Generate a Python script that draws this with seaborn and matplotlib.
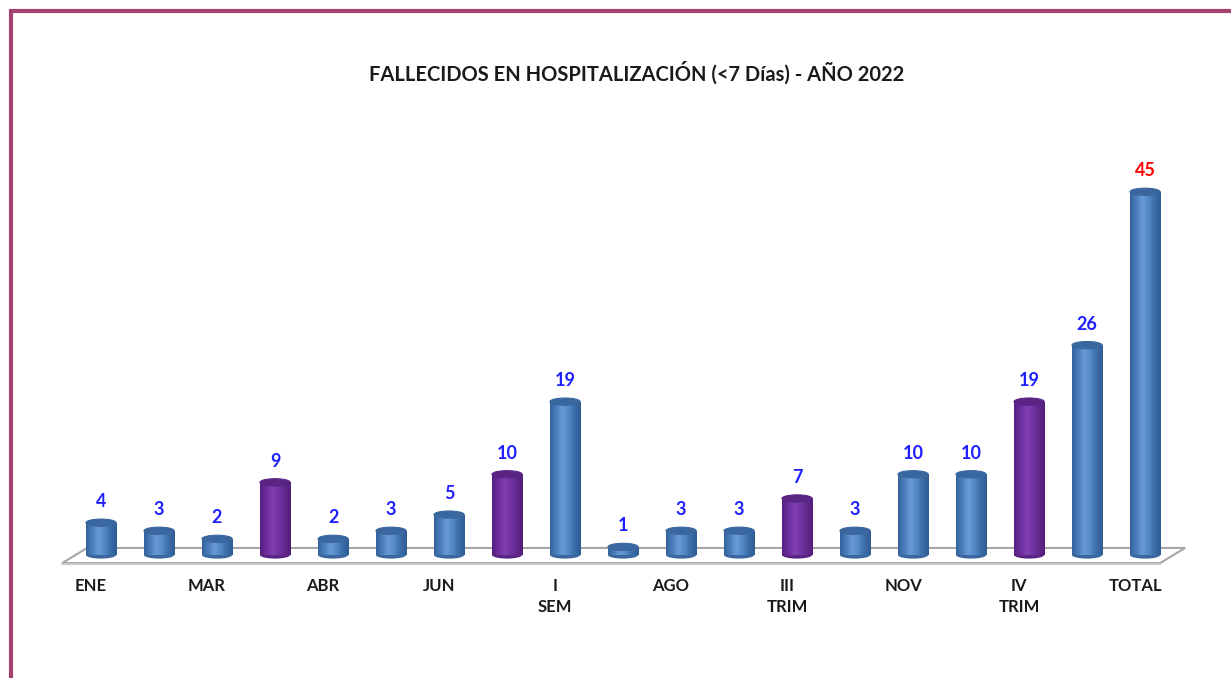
import numpy as np
import pandas as pd
import seaborn as sns
import matplotlib.pyplot as plt
import matplotlib.transforms as mtransforms
from matplotlib.patches import Ellipse, Polygon, Rectangle
from matplotlib.colors import LinearSegmentedColormap

# datos
categorias = ['ENE', 'FEB', 'MAR', 'I TRIM', 'ABR', 'MAY', 'JUN', 'II TRIM',
              'I SEM', 'JUL', 'AGO', 'SEP', 'III TRIM', 'OCT', 'NOV', 'DIC',
              'IV TRIM', 'II SEM', 'TOTAL']
valores = [4, 3, 2, 9, 2, 3, 5, 10, 19, 1, 3, 3, 7, 3, 10, 10, 19, 26, 45]
etiquetas_eje = ['ENE', '', 'MAR', '', 'ABR', '', 'JUN', '', 'I\nSEM', '',
                 'AGO', '', 'III\nTRIM', '', 'NOV', '', 'IV\nTRIM', '', 'TOTAL']
tipo = ['mes', 'mes', 'mes', 'trim', 'mes', 'mes', 'mes', 'trim', 'sem', 'mes',
        'mes', 'mes', 'trim', 'mes', 'mes', 'mes', 'trim', 'sem', 'total']
titulo = 'FALLECIDOS EN HOSPITALIZACIÓN (<7 Días) - AÑO 2022'

df = pd.DataFrame({'categoria': categorias, 'valor': valores, 'tipo': tipo})

sns.set_theme(style='white')
plt.rcParams['font.family'] = ['Lato', 'DejaVu Sans']

colores = {'mes': '#4F81BD', 'sem': '#4F81BD', 'total': '#4F81BD', 'trim': '#7030A0'}
oscuros = {'mes': '#3A679E', 'sem': '#3A679E', 'total': '#3A679E', 'trim': '#5A2485'}
cmap_azul = LinearSegmentedColormap.from_list(
    'azul', ['#33639C', '#4A7EBB', '#6A9BD6', '#5289C8', '#3C6EA8', '#2F5C92'])
cmap_morado = LinearSegmentedColormap.from_list(
    'morado', ['#55207F', '#6C2C9B', '#8040B2', '#7434A5', '#62288F', '#521E7A'])

fig = plt.figure(figsize=(12.31, 6.78), dpi=100)
ax = fig.add_axes([0.0444, 0.1636, 0.9235, 0.613])

sns.barplot(data=df, x='categoria', y='valor', hue='tipo', palette=colores,
            dodge=False, legend=False, width=0.52, linewidth=0, edgecolor='none',
            ax=ax, zorder=3)

ax.set_xlim(-0.8, 18.8)
ax.set_ylim(-1.5, 50)

# piso 3D
piso = Polygon([[-0.67, -1.0], [18.26, -1.0], [18.69, 0.87], [-0.24, 0.87]],
               closed=True, facecolor='white', edgecolor='#A6A6A6', lw=1.5, zorder=1)
ax.add_patch(piso)
ax.plot([-0.67, 18.26], [-1.15, -1.15], color='#C8C8C8', lw=1.5, zorder=1)

# cilindros
barras = sorted([p for p in ax.patches if isinstance(p, Rectangle) and p.get_width() > 0],
                key=lambda p: p.get_x())
grad = np.linspace(0, 1, 64).reshape(1, -1)
for p, t in zip(barras, tipo):
    x0, w, h = p.get_x(), p.get_width(), p.get_height()
    cx = x0 + w / 2
    cmap = cmap_morado if t == 'trim' else cmap_azul
    ax.add_patch(Ellipse((cx, 0), w, 0.9, facecolor=oscuros[t], edgecolor='none', zorder=2.9))
    im = ax.imshow(grad, cmap=cmap, aspect='auto', extent=(x0, x0 + w, 0, h), zorder=3.1)
    im.set_clip_path(p)
    ax.add_patch(Ellipse((cx, h), w, 0.9, facecolor=oscuros[t],
                         edgecolor=oscuros[t], lw=0.8, zorder=3.2))
    color_txt = 'red' if t == 'total' else '#1F1FFF'
    ax.annotate(f'{int(h)}', (cx, h), xytext=(0, 9), textcoords='offset points',
                ha='center', va='bottom', fontsize=13, fontweight='bold',
                color=color_txt, zorder=4)

ax.set_xticks(range(len(categorias)))
ax.set_xticklabels(etiquetas_eje, fontsize=12, fontweight='bold', color='#1a1a1a',
                   linespacing=1.35)
ax.tick_params(axis='x', length=0, pad=8)
# etiquetas desplazadas a la izquierda por la perspectiva del piso
desplazar = mtransforms.ScaledTranslation(-10 / 100, 0, fig.dpi_scale_trans)
for lbl in ax.get_xticklabels():
    lbl.set_transform(lbl.get_transform() + desplazar)
ax.set_yticks([])
ax.set_xlabel('')
ax.set_ylabel('')
for s in ax.spines.values():
    s.set_visible(False)
ax.set_facecolor('none')

fig.text(0.517, 0.893, titulo, ha='center', va='center', fontsize=14.5,
         fontweight='bold', color='#1a1a1a')

# marco
fig.patches.append(Rectangle((10.5 / 1231, -0.1), 2, 1.1 - 11.5 / 678,
                             transform=fig.transFigure, fill=False,
                             edgecolor='#A3416F', lw=3))

fig.savefig('out.png', dpi=100)
